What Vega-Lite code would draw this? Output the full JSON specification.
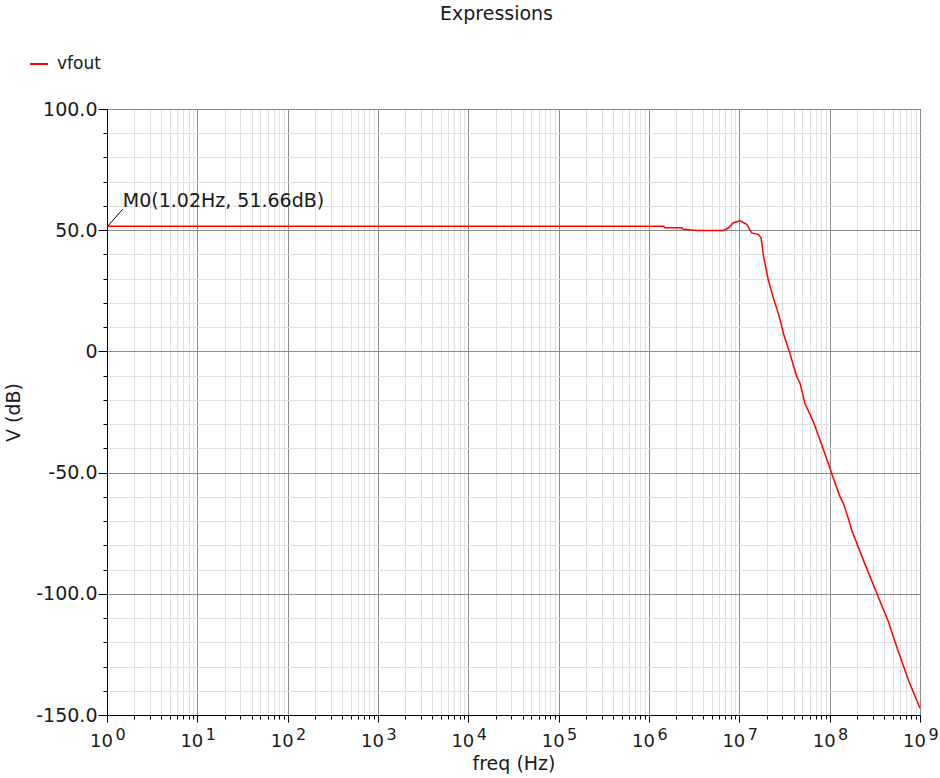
{
  "$schema": "https://vega.github.io/schema/vega-lite/v6.json",
  "width": 813,
  "height": 606,
  "autosize": {"type": "none"},
  "padding": {"left": 107, "top": 109, "right": 20, "bottom": 63},
  "background": "white",
  "config": {
    "view": {"stroke": "#000000", "strokeWidth": 1},
    "font": "DejaVu Sans",
    "axis": {"labelFont": "DejaVu Sans", "titleFont": "DejaVu Sans", "labelColor": "#1a1a1a", "titleColor": "#1a1a1a", "titleFontWeight": "normal", "labelFlush": false, "labelOverlap": false, "labelBound": false}
  },
  "title": {"text": "Expressions", "fontSize": 19, "fontWeight": "normal", "font": "DejaVu Sans", "color": "#1a1a1a", "anchor": "middle", "offset": 30, "dx": -17},
  "data": {"values": [
    {"freq": 1, "db": 51.66},
    {"freq": 1.02, "db": 51.66},
    {"freq": 10, "db": 51.66},
    {"freq": 100, "db": 51.66},
    {"freq": 1000, "db": 51.66},
    {"freq": 10000, "db": 51.66},
    {"freq": 100000, "db": 51.66},
    {"freq": 1000000, "db": 51.66},
    {"freq": 1450000, "db": 51.6},
    {"freq": 1500000, "db": 51.0},
    {"freq": 2300000, "db": 51.0},
    {"freq": 2400000, "db": 50.4},
    {"freq": 3370000, "db": 49.9},
    {"freq": 6650000, "db": 49.9},
    {"freq": 7550000, "db": 50.9},
    {"freq": 8600000, "db": 53.1},
    {"freq": 10200000, "db": 53.9},
    {"freq": 12100000, "db": 52.4},
    {"freq": 13700000, "db": 48.9},
    {"freq": 16300000, "db": 48.2},
    {"freq": 17400000, "db": 46.9},
    {"freq": 18500000, "db": 39.3},
    {"freq": 20900000, "db": 29.5},
    {"freq": 23800000, "db": 22.0},
    {"freq": 27000000, "db": 15.7},
    {"freq": 28200000, "db": 13.2},
    {"freq": 30700000, "db": 7.5},
    {"freq": 35700000, "db": 0},
    {"freq": 43200000, "db": -10.4},
    {"freq": 46900000, "db": -13.0},
    {"freq": 53100000, "db": -21.4},
    {"freq": 65900000, "db": -29.0},
    {"freq": 78200000, "db": -36.6},
    {"freq": 96600000, "db": -46.2},
    {"freq": 105000000, "db": -50.3},
    {"freq": 130000000, "db": -59.9},
    {"freq": 142000000, "db": -62.8},
    {"freq": 161000000, "db": -68.9},
    {"freq": 175000000, "db": -73.7},
    {"freq": 236000000, "db": -86.1},
    {"freq": 332000000, "db": -99.8},
    {"freq": 447000000, "db": -111.5},
    {"freq": 552000000, "db": -121.8},
    {"freq": 743000000, "db": -135.6},
    {"freq": 1000000000, "db": -147.2}
  ]},
  "layer": [
    {
      "mark": {"type": "line", "opacity": 0},
      "encoding": {
        "x": {"field": "freq", "type": "quantitative", "scale": {"type": "log", "domain": [1, 1000000000], "nice": false},
          "axis": {"orient": "bottom", "values": [2,3,4,5,6,7,8,9,20,30,40,50,60,70,80,90,200,300,400,500,600,700,800,900,2000,3000,4000,5000,6000,7000,8000,9000,20000,30000,40000,50000,60000,70000,80000,90000,200000,300000,400000,500000,600000,700000,800000,900000,2000000,3000000,4000000,5000000,6000000,7000000,8000000,9000000,20000000,30000000,40000000,50000000,60000000,70000000,80000000,90000000,200000000,300000000,400000000,500000000,600000000,700000000,800000000,900000000],
            "grid": true, "gridColor": "#e0e0e0", "gridWidth": 1, "ticks": true, "tickSize": 4, "tickColor": "#000000", "labels": false, "domain": false, "title": null}},
        "y": {"field": "db", "type": "quantitative", "scale": {"domain": [-150, 100], "nice": false, "zero": false},
          "axis": {"orient": "left", "values": [-140,-130,-120,-110,-90,-80,-70,-60,-40,-30,-20,-10,10,20,30,40,60,70,80,90],
            "grid": true, "gridColor": "#e0e0e0", "gridWidth": 1, "ticks": true, "tickSize": 4, "tickColor": "#000000", "labels": false, "domain": false, "title": null}}
      }
    },
    {
      "mark": {"type": "line", "strokeWidth": 1.5},
      "encoding": {
        "x": {"field": "freq", "type": "quantitative",
          "axis": {"orient": "bottom", "values": [1,10,100,1000,10000,100000,1000000,10000000,100000000,1000000000],
            "grid": true, "gridColor": "#8c8c8c", "gridWidth": 1, "ticks": true, "tickSize": 7, "tickColor": "#000000",
            "domain": true, "domainColor": "#000000",
            "labelExpr": "'10'", "labelFontSize": 18, "labelOffset": -6, "labelPadding": 10,
            "title": "freq (Hz)", "titleFontSize": 19, "titlePadding": 4}},
        "y": {"field": "db", "type": "quantitative",
          "axis": {"orient": "left", "values": [-150,-100,-50,0,50,100],
            "grid": true, "gridColor": "#8c8c8c", "gridWidth": 1, "ticks": true, "tickSize": 9, "tickColor": "#000000",
            "domain": true, "domainColor": "#000000",
            "labelExpr": "datum.value == 0 ? '0' : (datum.value < 0 ? '-' : '') + format(abs(datum.value), '.1f')",
            "labelFontSize": 19, "labelPadding": 1,
            "title": "V (dB)", "titleFontSize": 19, "titlePadding": 12}},
        "color": {"datum": "vfout", "type": "nominal", "scale": {"range": ["#ff0000"]},
          "legend": {"title": null, "orient": "none", "legendX": -78, "legendY": -55, "symbolType": "stroke", "symbolSize": 324, "symbolStrokeWidth": 2, "labelFontSize": 17, "labelFont": "DejaVu Sans", "labelColor": "#1a1a1a", "labelOffset": 8, "padding": 0}}
      }
    },
    {
      "mark": {"type": "line", "opacity": 0},
      "encoding": {
        "x": {"field": "freq", "type": "quantitative",
          "axis": {"orient": "bottom", "values": [1,10,100,1000,10000,100000,1000000,10000000,100000000,1000000000],
            "grid": false, "ticks": false, "domain": false,
            "labelExpr": "'' + round(log(datum.value) / LN10)", "labelFontSize": 16, "labelOffset": 13, "labelPadding": 11,
            "title": null}},
        "y": {"field": "db", "type": "quantitative", "axis": null}
      }
    },
    {
      "data": {"values": [{"freq": 1.02, "db": 51.66, "label": "M0(1.02Hz, 51.66dB)"}]},
      "mark": {"type": "rule", "color": "#000000", "strokeWidth": 1, "x2Offset": 15, "y2Offset": -17},
      "encoding": {
        "x": {"field": "freq", "type": "quantitative", "axis": null},
        "y": {"field": "db", "type": "quantitative", "axis": null},
        "x2": {"field": "freq"},
        "y2": {"field": "db"}
      }
    },
    {
      "data": {"values": [{"freq": 1.02, "db": 51.66, "label": "M0(1.02Hz, 51.66dB)"}]},
      "mark": {"type": "text", "align": "left", "baseline": "alphabetic", "dx": 15, "dy": -19, "fontSize": 19, "font": "DejaVu Sans", "color": "#1a1a1a"},
      "encoding": {
        "x": {"field": "freq", "type": "quantitative", "axis": null},
        "y": {"field": "db", "type": "quantitative", "axis": null},
        "text": {"field": "label"}
      }
    }
  ],
  "resolve": {"axis": {"x": "independent", "y": "independent"}}
}
